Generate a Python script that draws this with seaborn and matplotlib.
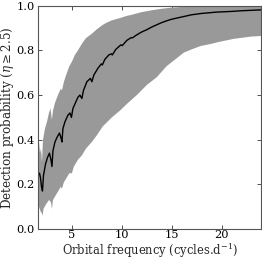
import numpy as np
import pandas as pd
import matplotlib
matplotlib.use("Agg")
import matplotlib.pyplot as plt
import seaborn as sns

# Mean detection probability curve
mean_freq = [1.60, 1.75, 1.85, 1.95, 2.05, 2.15, 2.35, 2.55, 2.75, 2.90, 3.00, 3.10,
             3.30, 3.50, 3.75, 3.90, 4.00, 4.10, 4.30, 4.60, 4.80, 4.95, 5.10, 5.35,
             5.60, 5.80, 6.00, 6.15, 6.50, 6.85, 7.00, 7.20, 7.60, 7.95, 8.05, 8.30,
             8.70, 8.95, 9.05, 9.40, 9.90, 10.05, 10.5, 10.95, 11.05, 11.5, 12.0, 12.5,
             13.0, 13.5, 14.0, 14.5, 15.0, 15.5, 16.0, 16.5, 17.0, 17.5, 18.0, 18.5,
             19.0, 19.5, 20.0, 21.0, 22.0, 23.0, 24.0]
mean_prob = [0.24, 0.25, 0.23, 0.19, 0.17, 0.24, 0.29, 0.32, 0.34, 0.31, 0.28, 0.35,
             0.39, 0.41, 0.43, 0.41, 0.39, 0.45, 0.48, 0.51, 0.52, 0.50, 0.54, 0.565,
             0.59, 0.60, 0.585, 0.62, 0.66, 0.675, 0.66, 0.69, 0.72, 0.74, 0.735, 0.76,
             0.78, 0.785, 0.78, 0.805, 0.825, 0.822, 0.845, 0.858, 0.856, 0.87, 0.883, 0.893,
             0.905, 0.915, 0.925, 0.933, 0.94, 0.945, 0.95, 0.955, 0.96, 0.963, 0.966, 0.968,
             0.97, 0.972, 0.973, 0.975, 0.978, 0.98, 0.982]

# Upper edge of the band
upper_freq = [1.60, 1.70, 1.80, 1.90, 2.00, 2.10, 2.30, 2.50, 2.70, 2.85, 3.00, 3.10,
              3.30, 3.60, 3.90, 4.00, 4.20, 4.50, 4.75, 5.00, 5.30, 5.60, 6.00, 6.40,
              7.00, 7.50, 8.10, 8.50, 9.00, 9.80, 10.5, 11.0, 12.0, 13.0, 14.0, 15.0,
              16.0, 17.0, 18.0, 20.0, 24.0]
upper_prob = [0.38, 0.39, 0.34, 0.36, 0.30, 0.40, 0.45, 0.48, 0.52, 0.54, 0.49, 0.53,
              0.565, 0.60, 0.63, 0.62, 0.66, 0.70, 0.73, 0.75, 0.78, 0.80, 0.83, 0.855,
              0.875, 0.895, 0.915, 0.925, 0.935, 0.945, 0.955, 0.96, 0.972, 0.98, 0.987, 0.992,
              0.995, 0.997, 0.998, 0.999, 1.0]

# Lower edge of the band
lower_freq = [1.60, 1.70, 1.85, 2.00, 2.07, 2.15, 2.40, 2.70, 2.90, 3.00, 3.10, 3.50,
              3.90, 4.00, 4.20, 4.75, 5.00, 5.20, 5.60, 6.00, 6.40, 7.00, 7.50, 8.10,
              9.00, 9.80, 10.5, 11.5, 12.5, 13.5, 14.5, 15.5, 16.2, 17.0, 17.9, 19.0,
              19.6, 21.2, 22.9, 24.0]
lower_prob = [0.12, 0.10, 0.08, 0.07, 0.06, 0.09, 0.11, 0.13, 0.12, 0.09, 0.13, 0.16,
              0.19, 0.18, 0.21, 0.25, 0.25, 0.28, 0.31, 0.33, 0.36, 0.39, 0.42, 0.46,
              0.50, 0.53, 0.56, 0.60, 0.645, 0.68, 0.73, 0.765, 0.79, 0.805, 0.82, 0.83,
              0.837, 0.852, 0.862, 0.865]

x_ticks = [5, 10, 15, 20]
y_ticks = [0.0, 0.2, 0.4, 0.6, 0.8, 1.0]

sns.set_style("ticks")
plt.rcParams["font.family"] = ["DejaVu Serif"]
plt.rcParams["mathtext.fontset"] = "dejavuserif"

fig = plt.figure(figsize=(2.62, 2.61), dpi=100)
ax = fig.add_axes([0.145, 0.1226, 0.853, 0.855])

band_x = np.concatenate([upper_freq, lower_freq[::-1]])
band_y = np.concatenate([upper_prob, lower_prob[::-1]])
ax.fill(band_x, band_y, color="#999999", linewidth=0)

df = pd.DataFrame({"freq": mean_freq, "prob": mean_prob})
sns.lineplot(data=df, x="freq", y="prob", ax=ax, color="black", linewidth=1.0)

ax.set_xlim(1.6, 24.0)
ax.set_ylim(0.0, 1.0)
ax.set_xticks(x_ticks)
ax.set_yticks(y_ticks)
ax.set_yticklabels([f"{v:.1f}" for v in y_ticks])
ax.tick_params(direction="in", top=True, right=True, length=3, width=0.6,
               labelsize=8.2, colors="#333333", labelcolor="black")
ax.tick_params(axis="x", pad=1.0)
ax.tick_params(axis="y", pad=2.5)
for s in ax.spines.values():
    s.set_linewidth(0.8)
    s.set_color("#555555")

ax.set_xlabel(r"Orbital frequency (cycles.d$^{-1}$)", fontsize=8.3, va="bottom")
ax.set_ylabel(r"Detection probability ($\eta \geq 2.5$)", fontsize=8.6)
ax.xaxis.set_label_coords(0.5, -0.137)
ax.yaxis.set_label_coords(-0.098, 0.5)

fig.savefig("out.png", dpi=100)
